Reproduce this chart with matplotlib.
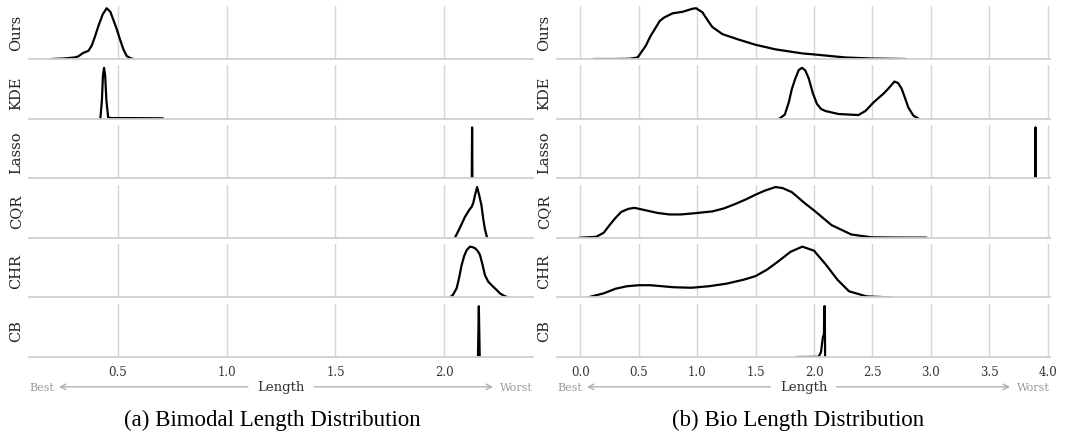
import matplotlib
matplotlib.use("Agg")
import matplotlib.pyplot as plt

methods = ["Ours", "KDE", "Lasso", "CQR", "CHR", "CB"]

# (a) Bimodal - densities (relative heights per row)
bim_x = {
    "Ours": [0.196, 0.25, 0.30, 0.317, 0.34, 0.364, 0.379, 0.395, 0.41, 0.43, 0.448,
             0.465, 0.478, 0.495, 0.509, 0.525, 0.54, 0.555, 0.57],
    "KDE": [0.419, 0.426, 0.431, 0.436, 0.441, 0.447, 0.455, 0.47, 0.55, 0.63, 0.705],
    "Lasso": [2.1265, 2.128, 2.1295],
    "CQR": [2.049, 2.07, 2.095, 2.115, 2.126, 2.133, 2.142, 2.151, 2.16, 2.171, 2.18,
            2.187, 2.197],
    "CHR": [2.026, 2.04, 2.057, 2.068, 2.08, 2.092, 2.103, 2.118, 2.13, 2.141, 2.153,
            2.164, 2.175, 2.187, 2.202, 2.225, 2.24, 2.256, 2.275, 2.294],
    "CB": [2.155, 2.159, 2.163],
}
bim_y = {
    "Ours": [0, 0.01, 0.03, 0.05, 0.12, 0.16, 0.26, 0.45, 0.65, 0.88, 1.0,
             0.93, 0.78, 0.58, 0.39, 0.19, 0.06, 0.02, 0],
    "KDE": [0, 0.35, 0.85, 1.0, 0.85, 0.35, 0.02, 0.01, 0.01, 0.008, 0.005],
    "Lasso": [0, 1, 0],
    "CQR": [0, 0.18, 0.41, 0.55, 0.61, 0.68, 0.85, 1.0, 0.85, 0.64, 0.35, 0.17, 0],
    "CHR": [0, 0.05, 0.18, 0.38, 0.64, 0.82, 0.93, 1.0, 0.99, 0.97, 0.92,
            0.84, 0.66, 0.44, 0.31, 0.21, 0.15, 0.08, 0.03, 0],
    "CB": [0, 1, 0],
}

# (b) Bio
bio_x = {
    "Ours": [0.116, 0.3, 0.42, 0.49, 0.56, 0.60, 0.648, 0.68, 0.719, 0.79, 0.875, 0.96,
             0.99, 1.045, 1.09, 1.13, 1.216, 1.358, 1.5, 1.67, 1.9, 2.0, 2.27, 2.49, 2.78],
    "KDE": [1.705, 1.75, 1.784, 1.81, 1.84, 1.87, 1.898, 1.925, 1.955, 1.99, 2.025,
            2.06, 2.097, 2.21, 2.38, 2.44, 2.51, 2.594, 2.64, 2.688, 2.72, 2.75,
            2.78, 2.807, 2.85, 2.893],
    "Lasso": [3.895, 3.896, 3.897],
    "CQR": [-0.006, 0.136, 0.2, 0.25, 0.3, 0.35, 0.41, 0.463, 0.563, 0.66, 0.761,
            0.86, 0.96, 1.13, 1.23, 1.33, 1.42, 1.5, 1.58, 1.67, 1.73, 1.81, 1.927,
            2.0, 2.15, 2.32, 2.49, 2.7, 2.96],
    "CHR": [0.063, 0.2, 0.3, 0.4, 0.5, 0.6, 0.7, 0.8, 0.95, 1.1, 1.25, 1.4, 1.5,
            1.6, 1.7, 1.8, 1.9, 2.0, 2.1, 2.2, 2.3, 2.45, 2.65],
    "CB": [1.855, 2.04, 2.06, 2.075, 2.085, 2.088, 2.092, 2.095],
}
bio_y = {
    "Ours": [0, 0, 0.005, 0.03, 0.26, 0.45, 0.63, 0.75, 0.82, 0.9, 0.93, 0.99,
             1.0, 0.92, 0.76, 0.63, 0.49, 0.38, 0.28, 0.19, 0.11, 0.09, 0.03, 0.01, 0],
    "KDE": [0, 0.08, 0.32, 0.58, 0.79, 0.96, 1.0, 0.95, 0.79, 0.5, 0.29,
            0.19, 0.15, 0.09, 0.07, 0.15, 0.32, 0.49, 0.6, 0.73, 0.7, 0.59,
            0.4, 0.22, 0.06, 0],
    "Lasso": [0, 1, 0],
    "CQR": [0, 0.02, 0.1, 0.25, 0.39, 0.51, 0.57, 0.59, 0.54, 0.49, 0.46,
            0.46, 0.48, 0.52, 0.58, 0.67, 0.76, 0.85, 0.93, 1.0, 0.98, 0.9, 0.67,
            0.54, 0.25, 0.065, 0.01, 0.005, 0.003],
    "CHR": [0, 0.08, 0.17, 0.22, 0.24, 0.24, 0.22, 0.2, 0.19, 0.22, 0.27, 0.35, 0.42,
            0.55, 0.72, 0.9, 1.0, 0.92, 0.65, 0.35, 0.12, 0.02, 0],
    "CB": [0, 0.003, 0.1, 0.38, 0.45, 1.0, 1.0, 0],
}

bim_ticks = [0.5, 1.0, 1.5, 2.0]
bio_ticks = [0.0, 0.5, 1.0, 1.5, 2.0, 2.5, 3.0, 3.5, 4.0]

W, H = 1065, 439
fig = plt.figure(figsize=(W / 100, H / 100), dpi=100)

serif = "DejaVu Serif"
grid_c = "#d6d6d6"


def panel(xs, ys, left_px, right_px, xlim, ticks, caption, cap_px):
    axes = []
    for i, m in enumerate(methods):
        base = 60 + 59.6 * i
        top = base - 53.3
        ax = fig.add_axes([left_px / W, 1 - base / H, (right_px - left_px) / W, (base - top) / H])
        ax.plot(xs[m], ys[m], color="black", lw=1.6, solid_joinstyle="round")
        ax.set_xlim(*xlim)
        ax.set_ylim(0, max(ys[m]) * 1.05)
        ax.set_xticks(ticks)
        ax.set_yticks([])
        ax.grid(axis="x", color=grid_c, lw=1.0)
        ax.set_axisbelow(True)
        for s in ["top", "left", "right"]:
            ax.spines[s].set_visible(False)
        ax.spines["bottom"].set_color("#cfcfcf")
        ax.spines["bottom"].set_linewidth(1.3)
        ax.tick_params(axis="x", length=0, pad=6, labelsize=8.5, labelcolor="#333333")
        for t in ax.get_xticklabels():
            t.set_fontfamily(serif)
        if i < len(methods) - 1:
            ax.tick_params(axis="x", labelbottom=False)
        fig.text((left_px - 13) / W, 1 - (base + top) / 2 / H, m, rotation=90,
                 ha="center", va="center", fontsize=10.5, family=serif, color="#222222")
        axes.append(ax)

    ax = axes[-1]
    ty = -0.56
    ax.text(0.5, ty, "Length", transform=ax.transAxes, ha="center", va="center",
            fontsize=9.5, family=serif, color="#333333")
    ax.text(0.0, ty, "Best", transform=ax.transAxes, ha="left", va="center",
            fontsize=8, family=serif, color="#999999")
    ax.text(1.0, ty, "Worst", transform=ax.transAxes, ha="right", va="center",
            fontsize=8, family=serif, color="#999999")
    w = right_px - left_px
    arr = dict(arrowstyle="->", color="#aaaaaa", lw=0.9, shrinkA=0, shrinkB=0)
    ax.annotate("", xy=(30 / w, ty), xytext=(0.5 - 33 / w, ty), xycoords="axes fraction",
                textcoords="axes fraction", arrowprops=arr)
    ax.annotate("", xy=(1 - 40 / w, ty), xytext=(0.5 + 33 / w, ty), xycoords="axes fraction",
                textcoords="axes fraction", arrowprops=arr)
    fig.text(cap_px / W, 1 - 420 / H, caption, ha="center", va="center",
             fontsize=16.5, family="Liberation Serif")


panel(bim_x, bim_y, 29, 533, (0.091, 2.408), bim_ticks, "(a) Bimodal Length Distribution", 272)
panel(bio_x, bio_y, 557, 1050, (-0.2, 4.02), bio_ticks, "(b) Bio Length Distribution", 798)

fig.savefig("out.png", dpi=100)
